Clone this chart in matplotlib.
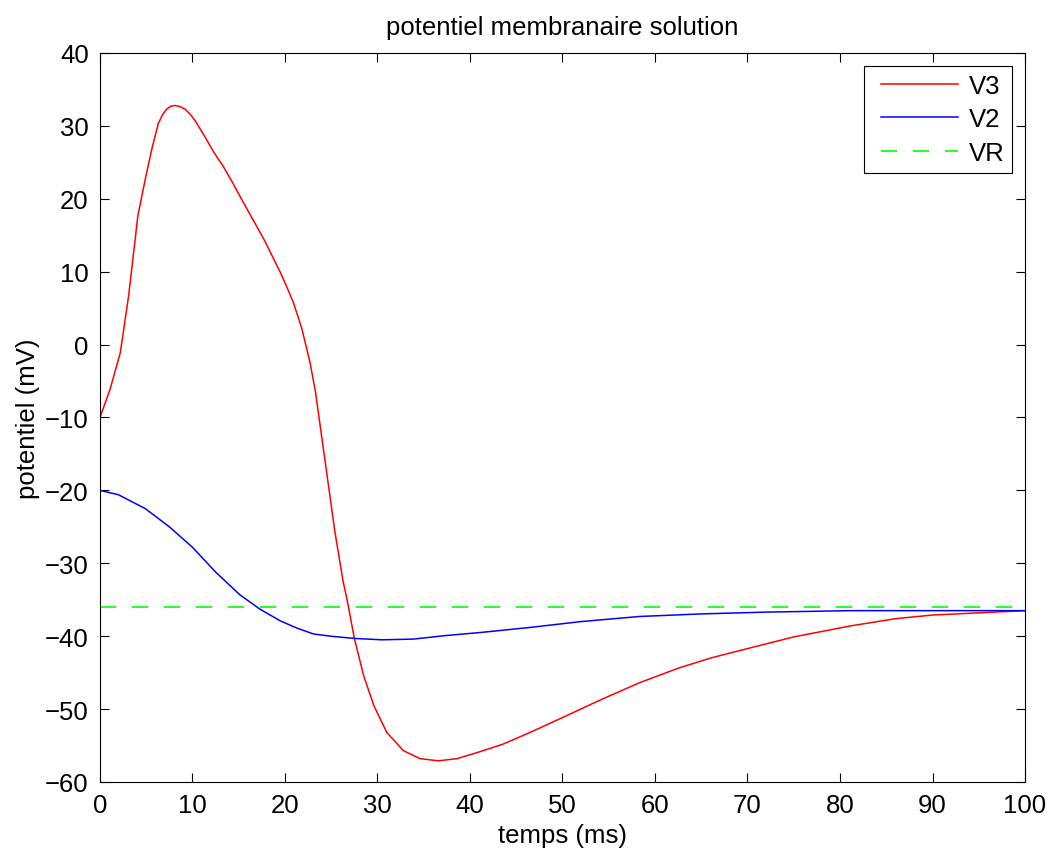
import matplotlib
matplotlib.use("Agg")
import matplotlib.pyplot as plt
from matplotlib.lines import Line2D
from matplotlib.legend_handler import HandlerLine2D

plt.rcParams['font.family'] = ['Liberation Sans', 'DejaVu Sans']

# V3 (time in ms, potential in mV)
t_v3 = [0, 1.1, 2.2, 3.1, 3.6, 4.1, 4.9, 5.6, 6.3, 6.75, 7.2, 7.65, 8.1,
        8.65, 9.2, 9.75, 10.3, 11.3, 12.3, 13.3, 14.3, 15.5, 16.6, 17.7,
        18.6, 19.5, 20.2, 20.9, 21.8, 22.7, 23.3, 23.8, 24.7, 25.4, 26.3,
        26.7, 27.5, 28.5, 29.6, 31.0, 32.8, 34.6, 36.6, 38.6, 40.7, 43.6,
        46.5, 49.6, 54.0, 58.3, 62.5, 66.0, 69.7, 75.0, 81.1, 86.0, 90.0,
        95.0, 100]
v3 = [-10, -6.1, -1.1, 6.7, 12.2, 17.7, 22.7, 26.8, 30.3, 31.5, 32.3, 32.7,
      32.8, 32.65, 32.3, 31.6, 30.7, 28.6, 26.4, 24.5, 22.3, 19.5, 17.0,
      14.5, 12.2, 9.9, 7.9, 5.8, 2.3, -2.4, -6.5, -11.1, -19.3, -25.7,
      -32.6, -34.9, -40.3, -45.4, -49.5, -53.2, -55.7, -56.8, -57.1, -56.8,
      -56.0, -54.8, -53.2, -51.4, -48.8, -46.4, -44.4, -43.0, -41.8, -40.1,
      -38.6, -37.6, -37.1, -36.8, -36.5]

# V2
t_v2 = [0, 2, 4.9, 7.5, 10, 12.5, 15.1, 17.3, 19.5, 21.3, 23.1, 24.9, 27.4,
        30.5, 33.9, 37.5, 41.1, 46.5, 52.0, 58.3, 64.9, 72.0, 81.1, 90.0, 100]
v2 = [-20, -20.6, -22.5, -25.0, -27.8, -31.2, -34.3, -36.3, -37.9, -38.9,
      -39.7, -40.0, -40.3, -40.5, -40.4, -39.9, -39.5, -38.8, -38.0, -37.3,
      -36.95, -36.7, -36.5, -36.5, -36.5]

# resting potential
vr_t = [0, 100]
vr = [-36, -36]

fig = plt.figure(figsize=(10.5, 8.53), dpi=100)
ax = fig.add_axes([0.0952, 0.0821, 0.881, 0.8546])

ax.plot(t_v3, v3, color='#ff0000', lw=1.1, label='V3')
ax.plot(t_v2, v2, color='#0000ff', lw=1.1, label='V2')
ax.plot(vr_t, vr, color='#00ff00', lw=1.2, dashes=[9.6, 9.6], label='VR')

ax.set_xlim(0, 100)
ax.set_ylim(-60, 40)
ax.set_xticks(range(0, 101, 10))
ax.set_yticks(range(-60, 41, 10))

fs = 18.5
ax.tick_params(direction='in', length=6.5, width=0.8, top=True, right=True,
               labelsize=fs, pad=8)
for s in ax.spines.values():
    s.set_linewidth(0.8)

ax.set_title('potentiel membranaire solution', fontsize=fs, pad=14)
ax.set_xlabel('temps (ms)', fontsize=fs, labelpad=4)
ax.set_ylabel('potentiel (mV)', fontsize=fs, labelpad=4)

leg = ax.legend(loc='upper right', fontsize=fs, fancybox=False, framealpha=1,
                edgecolor='black', handlelength=3.72, borderaxespad=0.5,
                labelspacing=0.38, handletextpad=0.05, borderpad=0.3,
                handler_map={Line2D: HandlerLine2D(numpoints=2, marker_pad=0.36)})
leg.get_frame().set_linewidth(0.8)

fig.savefig('out.png', dpi=100)
